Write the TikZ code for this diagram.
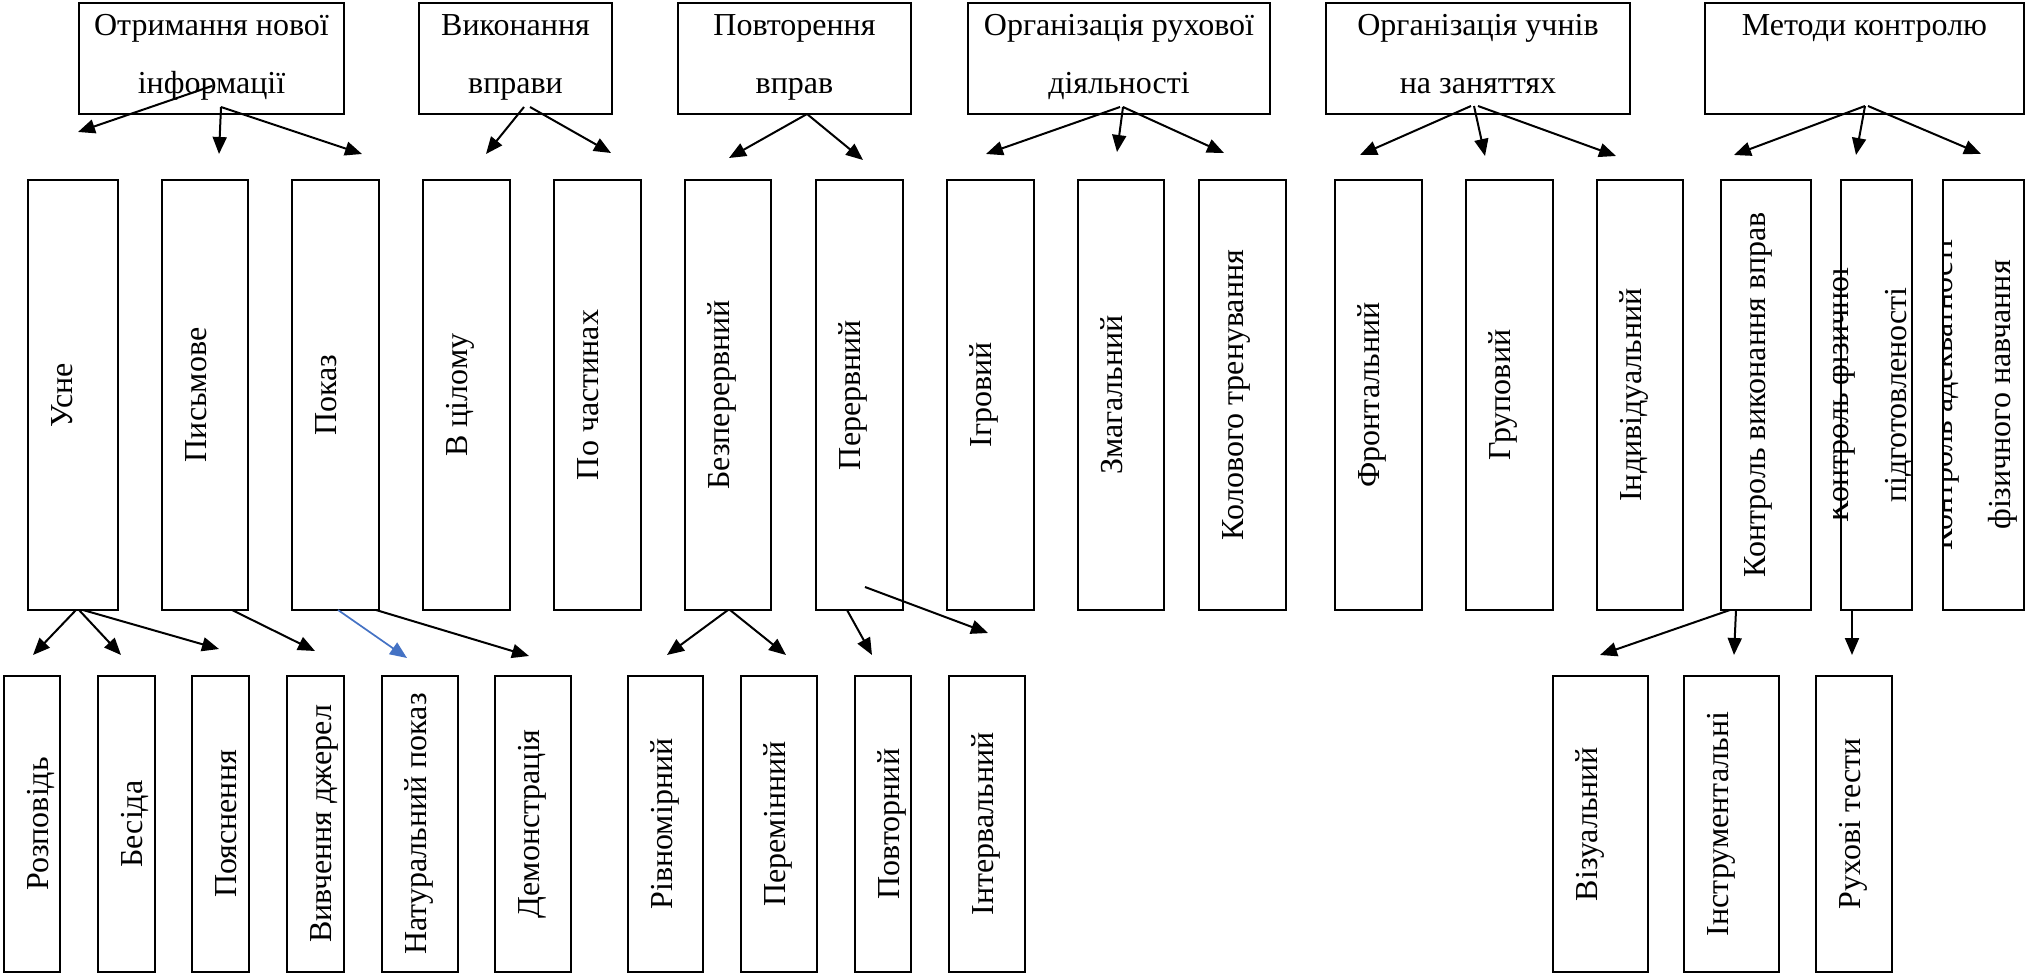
\documentclass[tikz,border=0pt]{standalone}
\usepackage{fontspec}
\setmainfont{Liberation Serif}
\usetikzlibrary{arrows.meta}
\definecolor{wordblue}{HTML}{4472C4}

\begin{document}
\begin{tikzpicture}[x=1pt, y=-1pt,
  box/.style={draw, line width=2pt, inner sep=0pt, outer sep=0pt},
  hbox/.style={box, minimum height=111pt},
  mbox/.style={box, minimum height=430pt},
  bbox/.style={box, minimum height=296pt},
  htxt/.style={font=\fontsize{32}{58}\selectfont, align=center, inner sep=0pt},
  vtxt/.style={htxt, rotate=90},
  arr/.style={line width=2pt, -{Triangle[length=17pt, width=14pt]}}]
\useasboundingbox (0,0) rectangle (2027,973);

% upper row
\node[hbox, minimum width=265pt] (otr) at (211.5,58.5) {};
\node[hbox, minimum width=193pt] (vyk) at (515.5,58.5) {};
\node[hbox, minimum width=233pt] (povtv) at (794.5,58.5) {};
\node[hbox, minimum width=302pt] (orgr) at (1119,58.5) {};
\node[hbox, minimum width=304pt] (orgu) at (1478,58.5) {};
\node[hbox, minimum width=319pt] (metod) at (1864.5,58.5) {};
\node[htxt] (otr-t) at ([yshift=5.1pt]otr.center) {\strut Отримання нової\\\strut інформації};
\node[htxt] (vyk-t) at ([yshift=5.1pt]vyk.center) {\strut Виконання\\\strut вправи};
\node[htxt] (povtv-t) at ([yshift=5.1pt]povtv.center) {\strut Повторення\\\strut вправ};
\node[htxt] (orgr-t) at ([yshift=5.1pt]orgr.center) {\strut Організація рухової\\\strut діяльності};
\node[htxt] (orgu-t) at ([yshift=5.1pt]orgu.center) {\strut Організація учнів\\\strut на заняттях};
\node[htxt] (metod-t) at ([yshift=34.1pt]metod.center) {\strut Методи контролю};

% middle row
\node[mbox, minimum width=90pt] (usne) at (73,395) {};
\node[mbox, minimum width=86pt] (pysm) at (205,395) {};
\node[mbox, minimum width=87pt] (pokaz) at (335.5,395) {};
\node[mbox, minimum width=87pt] (cilom) at (466.5,395) {};
\node[mbox, minimum width=87pt] (chast) at (597.5,395) {};
\node[mbox, minimum width=86pt] (bezp) at (728,395) {};
\node[mbox, minimum width=87pt] (perer) at (859.5,395) {};
\node[mbox, minimum width=87pt] (igr) at (990.5,395) {};
\node[mbox, minimum width=86pt] (zmag) at (1121,395) {};
\node[mbox, minimum width=87pt] (kolo) at (1242.5,395) {};
\node[mbox, minimum width=87pt] (front) at (1378.5,395) {};
\node[mbox, minimum width=87pt] (grup) at (1509.5,395) {};
\node[mbox, minimum width=86pt] (indyv) at (1640,395) {};
\node[mbox, minimum width=90pt] (kvyk) at (1766,395) {};
\node[mbox, minimum width=71pt] (kfiz) at (1876.5,395) {};
\node[mbox, minimum width=81pt] (kadek) at (1983.5,395) {};
\node[vtxt] (usne-t) at ([xshift=32.4pt]usne.west) {\strut Усне};
\node[vtxt] (pysm-t) at ([xshift=32.4pt]pysm.west) {\strut Письмове};
\node[vtxt] (pokaz-t) at ([xshift=32.4pt]pokaz.west) {\strut Показ};
\node[vtxt] (cilom-t) at ([xshift=32.4pt]cilom.west) {\strut В цілому};
\node[vtxt] (chast-t) at ([xshift=32.4pt]chast.west) {\strut По частинах};
\node[vtxt] (bezp-t) at ([xshift=32.4pt]bezp.west) {\strut Безперервний};
\node[vtxt] (perer-t) at ([xshift=32.4pt]perer.west) {\strut Перервний};
\node[vtxt] (igr-t) at ([xshift=32.4pt]igr.west) {\strut Ігровий};
\node[vtxt] (zmag-t) at ([xshift=32.4pt]zmag.west) {\strut Змагальний};
\node[vtxt] (kolo-t) at ([xshift=32.4pt]kolo.west) {\strut Колового тренування};
\node[vtxt] (front-t) at ([xshift=32.4pt]front.west) {\strut Фронтальний};
\node[vtxt] (grup-t) at ([xshift=32.4pt]grup.west) {\strut Груповий};
\node[vtxt] (indyv-t) at ([xshift=32.4pt]indyv.west) {\strut Індивідуальний};
\node[vtxt] (kvyk-t) at ([xshift=32.4pt]kvyk.west) {\strut Контроль виконання вправ};
\begin{scope}
  \clip ([xshift=-8pt]kfiz.north west) rectangle (kfiz.south east);
  \node[vtxt] (kfiz-t) at ([xshift=-10.6pt]kfiz.center) {\strut Контроль фізичної\\\strut підготовленості};
\end{scope}
\begin{scope}
  \clip ([xshift=-1pt]kadek.north west) rectangle (kadek.south east);
  \node[vtxt] (kadek-t) at ([xshift=-13.6pt]kadek.center) {\strut Контроль адекватності\\\strut фізичного навчання};
\end{scope}

% lower row
\node[bbox, minimum width=56pt] (rozp) at (32,824) {};
\node[bbox, minimum width=57pt] (besida) at (126.5,824) {};
\node[bbox, minimum width=57pt] (poyas) at (220.5,824) {};
\node[bbox, minimum width=57pt] (vyvch) at (315.5,824) {};
\node[bbox, minimum width=76pt] (natur) at (420,824) {};
\node[bbox, minimum width=76pt] (demo) at (533,824) {};
\node[bbox, minimum width=75pt] (rivn) at (665.5,824) {};
\node[bbox, minimum width=76pt] (peremin) at (779,824) {};
\node[bbox, minimum width=56pt] (povtorn) at (883,824) {};
\node[bbox, minimum width=76pt] (interv) at (987,824) {};
\node[bbox, minimum width=95pt] (viz) at (1600.5,824) {};
\node[bbox, minimum width=95pt] (instr) at (1731.5,824) {};
\node[bbox, minimum width=76pt] (ruhtest) at (1854,824) {};
\node[vtxt] (rozp-t) at ([xshift=32.4pt]rozp.west) {\strut Розповідь};
\node[vtxt] (besida-t) at ([xshift=32.4pt]besida.west) {\strut Бесіда};
\node[vtxt] (poyas-t) at ([xshift=32.4pt]poyas.west) {\strut Пояснення};
\node[vtxt] (vyvch-t) at ([xshift=32.4pt]vyvch.west) {\strut Вивчення джерел};
\node[vtxt] (natur-t) at ([xshift=32.4pt]natur.west) {\strut Натуральний показ};
\node[vtxt] (demo-t) at ([xshift=32.4pt]demo.west) {\strut Демонстрація};
\node[vtxt] (rivn-t) at ([xshift=32.4pt]rivn.west) {\strut Рівномірний};
\node[vtxt] (peremin-t) at ([xshift=32.4pt]peremin.west) {\strut Перемінний};
\node[vtxt] (povtorn-t) at ([xshift=32.4pt]povtorn.west) {\strut Повторний};
\node[vtxt] (interv-t) at ([xshift=32.4pt]interv.west) {\strut Інтервальний};
\node[vtxt] (viz-t) at ([xshift=32.4pt]viz.west) {\strut Візуальний};
\node[vtxt] (instr-t) at ([xshift=32.4pt]instr.west) {\strut Інструментальні};
\node[vtxt] (ruhtest-t) at ([xshift=32.4pt]ruhtest.west) {\strut Рухові тести};

% upper arrows
\draw[arr] ([xshift=0.5pt,yshift=28pt]otr.south) -- ([xshift=5pt,yshift=48pt]usne.north);
\draw[arr] ([xshift=9.5pt,yshift=7pt]otr.south) -- ([xshift=14pt,yshift=26pt]pysm.north);
\draw[arr] ([xshift=9.5pt,yshift=7pt]otr.south) -- ([xshift=26.5pt,yshift=26pt]pokaz.north);
\draw[arr] ([xshift=8.5pt,yshift=7pt]vyk.south) -- ([xshift=19.5pt,yshift=26pt]cilom.north);
\draw[arr] ([xshift=14.5pt,yshift=7pt]vyk.south) -- ([xshift=13.5pt,yshift=27pt]chast.north);
\draw[arr] ([xshift=12.5pt]povtv.south) -- ([xshift=1pt,yshift=22pt]bezp.north);
\draw[arr] ([xshift=12.5pt]povtv.south) -- ([xshift=3.5pt,yshift=20pt]perer.north);
\draw[arr] ([xshift=1pt,yshift=7pt]orgr.south) -- ([xshift=-4.5pt,yshift=26pt]igr.north);
\draw[arr] ([xshift=4pt,yshift=7pt]orgr.south) -- ([xshift=-4pt,yshift=28pt]zmag.north);
\draw[arr] ([xshift=4pt,yshift=7pt]orgr.south) -- ([xshift=-18.5pt,yshift=27pt]kolo.north);
\draw[arr] ([xshift=-7pt,yshift=8pt]orgu.south) -- ([xshift=-18.5pt,yshift=25pt]front.north);
\draw[arr] ([xshift=-4pt,yshift=8pt]orgu.south) -- ([xshift=-24.5pt,yshift=24pt]grup.north);
\draw[arr] ([yshift=8pt]orgu.south) -- ([xshift=-24pt,yshift=24pt]indyv.north);
\draw[arr] ([xshift=0.5pt,yshift=8pt]metod.south) -- ([xshift=-32pt,yshift=25pt]kvyk.north);
\draw[arr] ([xshift=0.5pt,yshift=8pt]metod.south) -- ([xshift=-20.5pt,yshift=25pt]kfiz.north);
\draw[arr] ([xshift=3.5pt,yshift=8pt]metod.south) -- ([xshift=-2.5pt,yshift=26pt]kadek.north);

% lower arrows
\draw[arr] ([xshift=3pt]usne.south) -- ([xshift=1pt,yshift=21pt]rozp.north);
\draw[arr] ([xshift=6pt]usne.south) -- ([xshift=-5.5pt,yshift=21pt]besida.north);
\draw[arr] ([xshift=10pt]usne.south) -- ([xshift=-1.5pt,yshift=27pt]poyas.north);
\draw[arr] ([xshift=27pt]pysm.south) -- ([xshift=-0.5pt,yshift=25pt]vyvch.north);
\draw[arr, wordblue, line width=1.7pt] ([xshift=2.5pt]pokaz.south) -- ([xshift=-13pt,yshift=18pt]natur.north);
\draw[arr] ([xshift=-3pt]pokaz.south east) -- ([xshift=-4pt,yshift=20pt]demo.north);
\draw[arr] (bezp.south) -- ([xshift=1.5pt,yshift=21pt]rivn.north);
\draw[arr] ([xshift=2pt]bezp.south) -- ([xshift=7pt,yshift=21pt]peremin.north);
\draw[arr] ([xshift=-12.5pt]perer.south) -- ([xshift=-11pt,yshift=21pt]povtorn.north);
\draw[arr] ([xshift=5.5pt,yshift=23pt]perer.south) -- ([xshift=1pt,yshift=43pt]interv.north);
\draw[arr] ([xshift=-36pt]kvyk.south) -- ([xshift=-0.5pt,yshift=21pt]viz.north);
\draw[arr] ([xshift=-30pt]kvyk.south) -- ([xshift=2.5pt,yshift=21pt]instr.north);
\draw[arr] ([xshift=-24.5pt]kfiz.south) -- ([xshift=-2pt,yshift=21pt]ruhtest.north);
\end{tikzpicture}
\end{document}
